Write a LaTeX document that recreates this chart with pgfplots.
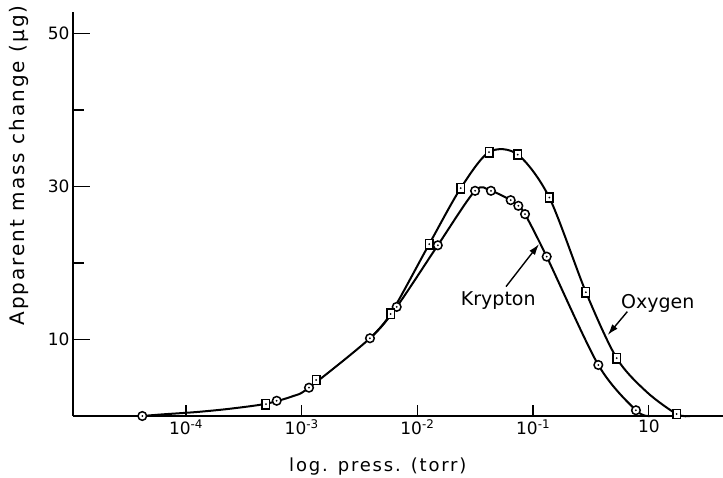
\documentclass[border=0pt]{standalone}
\usepackage{pgfplots}
\pgfplotsset{compat=1.18}
\usepackage{pgfplotstable}
\usepackage{fontspec}
\setmainfont{DejaVu Sans}
\newfontfamily\lab[LetterSpace=10]{DejaVu Sans}
\usetikzlibrary{arrows.meta}

% open circle / square with a dot in the middle
\pgfdeclareplotmark{cdot}{%
  \pgfpathcircle{\pgfpointorigin}{\pgfplotmarksize}\pgfusepathqfillstroke
  \begin{pgfscope}\pgfsetfillcolor{black}\pgfpathcircle{\pgfpointorigin}{1pt}\pgfusepathqfill\end{pgfscope}}
\pgfdeclareplotmark{sdot}{%
  \pgfpathrectanglecorners{\pgfqpoint{-0.8\pgfplotmarksize}{-\pgfplotmarksize}}{\pgfqpoint{0.8\pgfplotmarksize}{\pgfplotmarksize}}\pgfusepathqfillstroke
  \begin{pgfscope}\pgfsetfillcolor{black}\pgfpathcircle{\pgfpointorigin}{1pt}\pgfusepathqfill\end{pgfscope}}

% krypton, measured points
\pgfplotstableread{
x y
4.19e-5 0
6.08e-4 1.99
1.156e-3 3.70
3.89e-3 10.16
6.62e-3 14.26
0.0150 22.31
0.0315 29.43
0.0432 29.43
0.0640 28.21
0.0745 27.47
0.0851 26.38
0.131 20.83
0.366 6.67
0.774 0.75
}\krypton
% krypton curve, read along the drawn line (shared with oxygen at low pressure)
\pgfplotstableread{
x y
4.19e-5 0
6.37e-5 0.22
1.236e-4 0.52
2.40e-4 0.95
4.91e-4 1.60
8.41e-4 2.60
1.156e-3 3.70
3.89e-3 10.16
6.62e-3 14.26
0.0150 22.31
0.0315 29.43
0.0432 29.43
0.0640 28.21
0.0745 27.47
0.0851 26.38
0.131 20.83
0.366 6.67
0.774 0.75
1.024 0
}\kryptonline

% oxygen, measured points
\pgfplotstableread{
x y
4.91e-4 1.54
1.33e-3 4.71
5.87e-3 13.34
0.01264 22.46
0.02367 29.78
0.0416 34.49
0.0736 34.17
0.138 28.55
0.286 16.18
0.528 7.55
1.74 0.26
}\oxygen
% oxygen curve, leaving the common line near 6e-3 torr
\pgfplotstableread{
x y
3.89e-3 10.16
5.87e-3 13.34
0.01264 22.46
0.02367 29.78
0.0416 34.49
0.0736 34.17
0.138 28.55
0.286 16.18
0.528 7.55
0.959 3.14
1.74 0.26
2.27 0
}\oxygenline

\begin{document}
\begin{tikzpicture}
\begin{axis}[
  scale only axis, width=650pt, height=404pt,
  xmode=log, xmin=1.055e-5, xmax=4.375,
  ymin=0, ymax=52.8,
  axis x line*=bottom, axis y line*=left,
  axis line style={line width=1.7pt},
  tick align=inside,
  xtick={1e-4,1e-3,1e-2,1e-1,1},
  xticklabels={10\textsuperscript{-4},10\textsuperscript{-3},10\textsuperscript{-2},10\textsuperscript{-1},10},
  major x tick style={draw=none},
  minor xtick={1e-4,1e-3,1e-2,1e-1,1},
  ytick={10,30,50}, minor ytick={20,40},
  yticklabels={10,30,50},
  major tick length=17pt, minor tick length=11pt,
  tick style={line width=1.3pt, black},
  tick label style={font=\fontsize{17}{17}\selectfont},
  xlabel={log. press. (torr)},
  xlabel style={at={(axis description cs:0.469,0)}, anchor=center, yshift=-51pt,
    font=\lab\fontsize{18}{18}\selectfont},
  ylabel={Apparent mass change (μg)},
  ylabel style={at={(axis description cs:0,0.62)}, anchor=center, yshift=54pt,
    font=\lab\fontsize{20}{20}\selectfont},
  clip=false,
]
\addplot[black, line width=2pt, smooth, no marks] table {\kryptonline};
\addplot[black, line width=2pt, smooth, no marks] table {\oxygenline};
\addplot[only marks, mark=cdot, mark size=4.3pt,
  mark options={fill=white, draw=black, line width=1.5pt}] table {\krypton};
\addplot[only marks, mark=sdot, mark size=4.7pt,
  mark options={fill=white, draw=black, line width=1.5pt}] table {\oxygen};
\node[font=\fontsize{19}{19}\selectfont] at (axis cs:0.05,15.08) {Krypton};
\node[font=\fontsize{19}{19}\selectfont] at (axis cs:1.194,14.74) {Oxygen};
\draw[-{Latex[length=11pt,width=7pt]}, line width=1.4pt]
  (axis cs:0.0583,16.91) -- (axis cs:0.1124,22.46);
\draw[-{Latex[length=11pt,width=7pt]}, line width=1.4pt]
  (axis cs:0.652,13.64) -- (axis cs:0.4416,10.59);
\end{axis}
\pgfresetboundingbox
\path[use as bounding box] (-73pt,-61pt) rectangle (650pt,416pt);
\end{tikzpicture}
\end{document}
